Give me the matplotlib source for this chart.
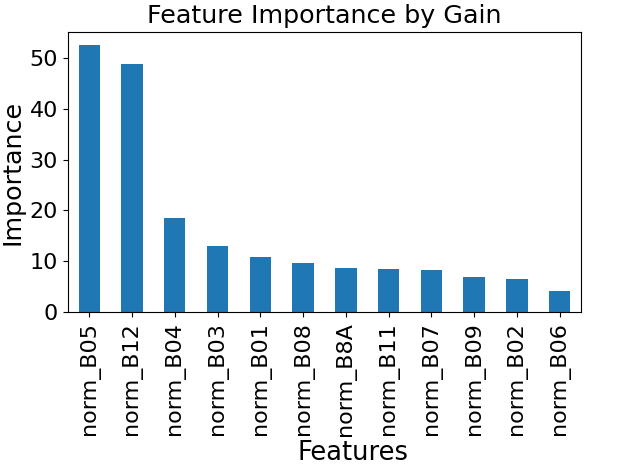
import matplotlib
matplotlib.use('Agg')
import matplotlib.pyplot as plt
import numpy as np

features = ['norm_B05', 'norm_B12', 'norm_B04', 'norm_B03', 'norm_B01', 'norm_B08',
            'norm_B8A', 'norm_B11', 'norm_B07', 'norm_B09', 'norm_B02', 'norm_B06']
importance = [52.5, 48.7, 18.6, 13.1, 10.9, 9.7, 8.6, 8.4, 8.25, 6.9, 6.5, 4.2]

fig, ax = plt.subplots(figsize=(6.4, 4.68), dpi=100)
fig.subplots_adjust(left=0.106, right=0.908, top=0.932, bottom=0.333)

x = np.arange(len(features))
ax.bar(x, importance, width=0.5, color='#1f77b4')
ax.set_xlim(-0.5, len(features) - 0.5)
ax.set_ylim(0, 55.1)
ax.set_xticks(x)
ax.set_xticklabels(features, rotation=90, fontsize=16)
ax.tick_params(axis='y', labelsize=16)
ax.set_xlabel('Features', fontsize=18.5)
ax.xaxis.set_label_coords(0.556, -0.455)
ax.set_ylabel('Importance', fontsize=18.3)
ax.set_title('Feature Importance by Gain', fontsize=18.3)

fig.savefig('out.png', dpi=100)
